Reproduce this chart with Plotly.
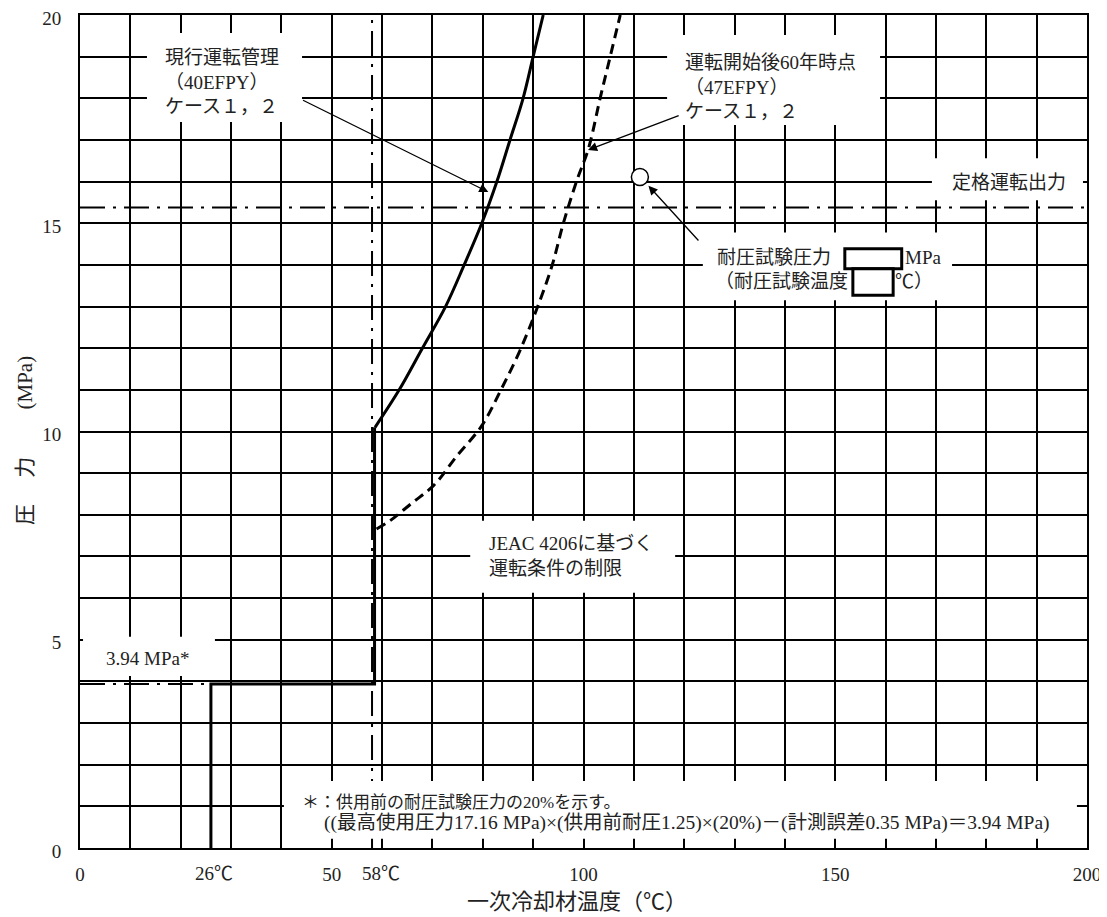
import plotly.graph_objects as go

# ---- data ----
x_grid = list(range(0, 201, 10))
x_tick_text = ["0", "", "", "", "", "50", "", "", "", "", "100", "", "", "", "", "150", "", "", "", "", "200"]
y_grid = list(range(0, 21))
y_tick_text = ["0", "", "", "", "", "5", "", "", "", "", "10", "", "", "", "", "15", "", "", "", "", "20"]

# 40EFPY limit curve (solid)
temp_40 = [58.6, 63.4, 68.0, 72.6, 76.3, 79.8, 82.8, 85.4, 88.0, 90.0, 92.0]
pres_40 = [10.1, 11.0, 12.0, 13.0, 14.0, 15.0, 16.0, 17.0, 18.0, 19.0, 20.0]

# 47EFPY limit curve (dashed)
temp_47 = [58.9, 61.6, 65.9, 70.2, 74.9, 79.8, 83.6, 87.4, 90.9, 93.8, 96.0, 98.6, 101.0, 103.3, 105.3, 107.3]
pres_47 = [7.66, 7.86, 8.28, 8.70, 9.42, 10.14, 11.0, 11.95, 13.0, 14.0, 15.0, 16.0, 16.8, 18.0, 19.0, 20.0]

# JEAC 4206 limit (bolt-up 26C, 3.94 MPa up to 58C)
limit_temp = [26, 26, 58.5, 58.5]
limit_pres = [0, 3.94, 3.94, 10.1]

# dash-dot reference lines
rated_temp = [0, 200]
rated_pres = [15.38, 15.38]
min_temp_line_x = [58, 58]
min_temp_line_y = [0, 20]
low_pres_x = [0, 26]
low_pres_y = [3.94, 3.94]

# hydrostatic test point
test_temp = [111.2]
test_pres = [16.11]

FONT = "Liberation Serif, Noto Sans CJK JP, serif"
TXT = "#222222"
DASHDOT = "25px,8px,3px,8px"

fig = go.Figure()

# reference lines
fig.add_trace(go.Scatter(x=rated_temp, y=rated_pres, mode="lines",
                         line=dict(color="black", width=2, dash=DASHDOT)))
fig.add_trace(go.Scatter(x=min_temp_line_x, y=min_temp_line_y, mode="lines",
                         line=dict(color="black", width=2, dash=DASHDOT)))
fig.add_trace(go.Scatter(x=low_pres_x, y=low_pres_y, mode="lines",
                         line=dict(color="black", width=2, dash=DASHDOT)))

# limit lines
fig.add_trace(go.Scatter(x=limit_temp, y=limit_pres, mode="lines",
                         line=dict(color="black", width=3)))
fig.add_trace(go.Scatter(x=temp_40, y=pres_40, mode="lines", line_shape="spline",
                         line=dict(color="black", width=3)))
fig.add_trace(go.Scatter(x=temp_47, y=pres_47, mode="lines", line_shape="spline",
                         line=dict(color="black", width=3, dash="10px,6px")))
fig.add_trace(go.Scatter(x=test_temp, y=test_pres, mode="markers",
                         marker=dict(size=17, color="white", line=dict(color="black", width=1.5))))

# white label backgrounds (cover the grid) and the two blank value boxes
boxes = [
    (13.3, 44.1, 17.43, 19.57),
    (116.6, 158.9, 17.36, 19.52),
    (169.2, 199.2, 15.55, 16.56),
    (123.7, 173.2, 13.15, 14.78),
    (77.5, 118.2, 6.13, 7.86),
    (0.6, 26.8, 4.13, 5.07),
    (40.5, 198.0, 0.22, 1.61),
]
for x0, x1, y0, y1 in boxes:
    fig.add_shape(type="rect", xref="x", yref="y", x0=x0, x1=x1, y0=y0, y1=y1,
                  fillcolor="white", line=dict(width=0), layer="above")
for x0, x1, y0, y1 in [(151.9, 163.2, 13.91, 14.39), (153.5, 161.5, 13.27, 13.91)]:
    fig.add_shape(type="rect", xref="x", yref="y", x0=x0, x1=x1, y0=y0, y1=y1,
                  fillcolor="white", line=dict(color="black", width=3), layer="above")

def label(x, y, text, size=19):
    fig.add_annotation(x=x, y=y, xref="x", yref="y", text=text, showarrow=False,
                       xanchor="left", yanchor="middle", align="left",
                       font=dict(family=FONT, size=size, color=TXT))

label(16.4, 18.39, "現行運転管理<br>（40EFPY）<br>ケース１，２")
label(119.8, 18.27, "運転開始後60年時点<br>（47EFPY）<br>ケース１，２")
label(172.8, 15.97, "定格運転出力")
label(126.1, 14.17, "耐圧試験圧力")
label(163.5, 14.17, "MPa")
label(125.7, 13.59, "（耐圧試験温度")
label(161.5, 13.59, "℃）")
label(80.8, 7.02, "JEAC 4206に基づく<br>運転条件の制限")
label(4.8, 4.56, "3.94 MPa*")
label(43.6, 1.10, "＊：供用前の耐圧試験圧力の20%を示す。", size=17)
label(48.0, 0.60, "((最高使用圧力17.16 MPa)×(供用前耐圧1.25)×(20%)－(計測誤差0.35 MPa)＝3.94 MPa)", size=19.5)

# arrows
for hx, hy, tx, ty in [(81.1, 15.75, 44.0, 17.97), (100.9, 16.76, 119.2, 17.6), (112.9, 15.9, 123.1, 14.55)]:
    fig.add_annotation(x=hx, y=hy, ax=tx, ay=ty, xref="x", yref="y", axref="x", ayref="y",
                       text="", showarrow=True, arrowhead=2, arrowsize=1.4, arrowwidth=1.3,
                       arrowcolor="black")

# special x tick labels
for xv, shift, txt in [(26, 3, "26℃"), (58, 9, "58℃")]:
    fig.add_annotation(x=xv, y=-0.031, xref="x", yref="paper", text=txt, showarrow=False,
                       xanchor="center", yanchor="middle", xshift=shift,
                       font=dict(family=FONT, size=19, color=TXT))

# axis titles
fig.add_annotation(x=0.4935, y=-0.0648, xref="paper", yref="paper", text="一次冷却材温度（℃）",
                   showarrow=False, xanchor="center", yanchor="middle",
                   font=dict(family=FONT, size=22, color=TXT))
fig.add_annotation(x=-0.0546, y=0.4886, xref="paper", yref="paper",
                   text="圧\u3000\u2005力\u3000\u3000\u2005(MPa)",
                   showarrow=False, xanchor="center", yanchor="middle", textangle=-90,
                   font=dict(family=FONT, size=21, color=TXT))

axis_style = dict(showgrid=True, gridcolor="black", gridwidth=2, showline=True, mirror=True,
                  linecolor="black", linewidth=2, zeroline=False, ticks="", automargin=False,
                  ticklabeloverflow="allow",
                  tickfont=dict(family=FONT, size=19, color=TXT))
fig.update_xaxes(range=[0, 200], tickmode="array", tickvals=x_grid, ticktext=x_tick_text,
                 ticklabelstandoff=8, **axis_style)
fig.update_yaxes(range=[0, 20], tickmode="array", tickvals=y_grid, ticktext=y_tick_text,
                 ticklabelstandoff=13, ticklabelshift=3, **axis_style)

# page body has an 8px margin, so the figure is sized/placed to compensate
fig.update_layout(width=1099, height=909, margin=dict(l=72, r=20, t=7, b=69),
                  paper_bgcolor="white", plot_bgcolor="white", showlegend=False)

fig.write_html("out.html")
